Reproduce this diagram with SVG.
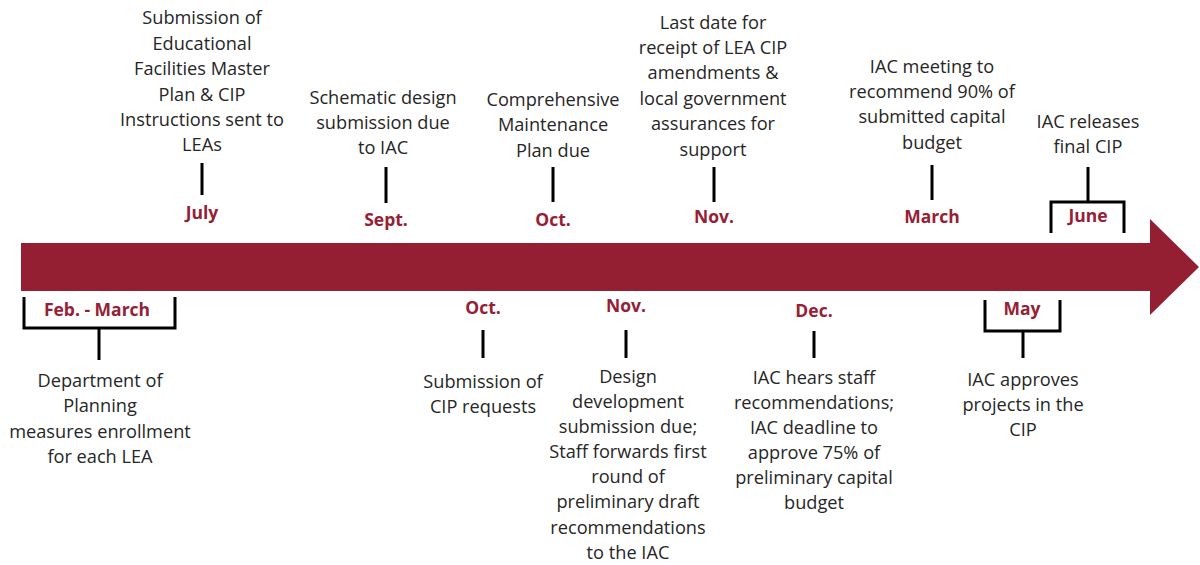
<svg xmlns="http://www.w3.org/2000/svg" width="1200" height="565" viewBox="0 0 1200 565">
<style>
.t{font-family:"Open Sans","Liberation Sans",sans-serif;font-size:18.2px;fill:#262626;text-anchor:middle}
.m{font-family:"Open Sans","Liberation Sans",sans-serif;font-size:17.5px;font-weight:bold;fill:#962035;text-anchor:middle}
.k{stroke:#000;stroke-width:3;fill:none}
</style>
<rect width="1200" height="565" fill="#fff"/>
<g id="timeline-arrow">
<polygon points="21,243 1150,243 1150,219 1199,267 1150,315 1150,291 21,291" fill="#951F32"/>
</g>
<g id="connectors">
<path class="k" d="M202,163V195 M386,167V203 M553,167V202 M714,167V202 M932,165V200"/>
<path class="k" d="M1088,167V202 M1051,233V202H1124V233"/>
<path class="k" d="M483,330V358 M626,330V358 M814,331V358"/>
<path class="k" d="M24,297V328H175V297 M99,328V360"/>
<path class="k" d="M985,300V331H1060V300 M1023,331V358"/>
</g>
<g id="node-july">
<text class="t" x="202"><tspan x="202" y="24">Submission of</tspan><tspan x="202" y="50">Educational</tspan><tspan x="202" y="75">Facilities Master</tspan><tspan x="202" y="101">Plan &amp; CIP</tspan><tspan x="202" y="126">Instructions sent to</tspan><tspan x="202" y="151">LEAs</tspan></text>
<text class="m" x="202" y="219">July</text>
</g>
<g id="node-sept">
<text class="t"><tspan x="383" y="104">Schematic design</tspan><tspan x="383" y="129">submission due</tspan><tspan x="383" y="154">to IAC</tspan></text>
<text class="m" x="386" y="226">Sept.</text>
</g>
<g id="node-oct-top">
<text class="t"><tspan x="553" y="106">Comprehensive</tspan><tspan x="553" y="131">Maintenance</tspan><tspan x="553" y="157">Plan due</tspan></text>
<text class="m" x="553" y="226">Oct.</text>
</g>
<g id="node-nov-top">
<text class="t"><tspan x="713" y="29">Last date for</tspan><tspan x="713" y="54">receipt of LEA CIP</tspan><tspan x="713" y="79">amendments &amp;</tspan><tspan x="713" y="105">local government</tspan><tspan x="713" y="130">assurances for</tspan><tspan x="713" y="156">support</tspan></text>
<text class="m" x="714" y="223">Nov.</text>
</g>
<g id="node-march">
<text class="t"><tspan x="932" y="73">IAC meeting to</tspan><tspan x="932" y="98">recommend 90% of</tspan><tspan x="932" y="123">submitted capital</tspan><tspan x="932" y="149">budget</tspan></text>
<text class="m" x="932" y="223">March</text>
</g>
<g id="node-june">
<text class="t"><tspan x="1088" y="128">IAC releases</tspan><tspan x="1088" y="153">final CIP</tspan></text>
<text class="m" x="1088" y="222">June</text>
</g>
<g id="node-feb-march">
<text class="m" x="97" y="316">Feb. - March</text>
<text class="t"><tspan x="100" y="387">Department of</tspan><tspan x="100" y="412">Planning</tspan><tspan x="100" y="438">measures enrollment</tspan><tspan x="100" y="463">for each LEA</tspan></text>
</g>
<g id="node-oct-bottom">
<text class="m" x="483" y="314">Oct.</text>
<text class="t"><tspan x="483" y="388">Submission of</tspan><tspan x="483" y="413">CIP requests</tspan></text>
</g>
<g id="node-nov-bottom">
<text class="m" x="626" y="312">Nov.</text>
<text class="t"><tspan x="628" y="383">Design</tspan><tspan x="628" y="408">development</tspan><tspan x="628" y="433">submission due;</tspan><tspan x="628" y="458">Staff forwards first</tspan><tspan x="628" y="483">round of</tspan><tspan x="628" y="508">preliminary draft</tspan><tspan x="628" y="534">recommendations</tspan><tspan x="628" y="559">to the IAC</tspan></text>
</g>
<g id="node-dec">
<text class="m" x="814" y="317">Dec.</text>
<text class="t"><tspan x="814" y="384">IAC hears staff</tspan><tspan x="814" y="409">recommendations;</tspan><tspan x="814" y="434">IAC deadline to</tspan><tspan x="814" y="459">approve 75% of</tspan><tspan x="814" y="484">preliminary capital</tspan><tspan x="814" y="509">budget</tspan></text>
</g>
<g id="node-may">
<text class="m" x="1022" y="315">May</text>
<text class="t"><tspan x="1023" y="386">IAC approves</tspan><tspan x="1023" y="411">projects in the</tspan><tspan x="1023" y="436">CIP</tspan></text>
</g>
</svg>
